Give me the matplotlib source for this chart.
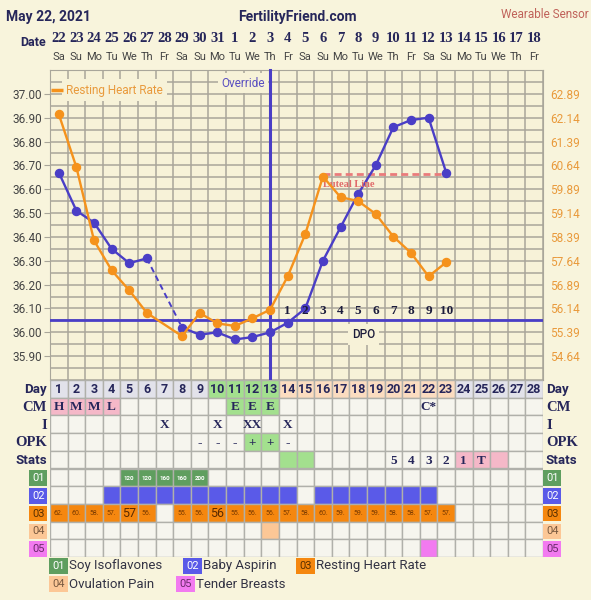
import matplotlib
matplotlib.use("Agg")
import matplotlib.pyplot as plt
import matplotlib.transforms as mtransforms
from matplotlib.patches import Rectangle
import numpy as np

plt.rcParams["font.family"] = ["Roboto", "DejaVu Sans"]

# ---- data ----
dates = ["22", "23", "24", "25", "26", "27", "28", "29", "30", "31", "1", "2", "3", "4",
         "5", "6", "7", "8", "9", "10", "11", "12", "13", "14", "15", "16", "17", "18"]
weekdays = ["Sa", "Su", "Mo", "Tu", "We", "Th", "Fr"] * 4
cycle_days = list(range(1, 29))

temp_days = [1, 2, 3, 4, 5, 6, 8, 9, 10, 11, 12, 13, 14, 15, 16, 17, 18, 19, 20, 21, 22, 23]
temps = [36.67, 36.51, 36.46, 36.35, 36.29, 36.31, 36.02, 35.99, 36.00, 35.97, 35.98, 36.00,
         36.04, 36.10, 36.30, 36.44, 36.58, 36.70, 36.86, 36.89, 36.90, 36.67]
hr_days = [1, 2, 3, 4, 5, 6, 8, 9, 10, 11, 12, 13, 14, 15, 16, 17, 18, 19, 20, 21, 22, 23]
heart_rate = [62.25, 60.58, 58.28, 57.34, 56.71, 56.00, 55.27, 56.00, 55.67, 55.59, 55.83,
              56.10, 57.15, 58.48, 60.29, 59.64, 59.52, 59.11, 58.40, 57.89, 57.15, 57.59]

coverline = 36.05
override_day = 13
luteal_days = [16, 23]
luteal_level = 36.665
dpo_days = list(range(14, 24))
dpo_labels = [str(i) for i in range(1, 11)]

temp_ticks = [37.00, 36.90, 36.80, 36.70, 36.60, 36.50, 36.40, 36.30, 36.20, 36.10, 36.00, 35.90]
hr_ticks = [62.89, 62.14, 61.39, 60.64, 59.89, 59.14, 58.39, 57.64, 56.89, 56.14, 55.39, 54.64]

# table rows
day_phase = ["none"] * 9 + ["fertile"] * 4 + ["luteal"] * 10 + ["none"] * 5
cm_obs = {1: "H", 2: "M", 3: "M", 4: "L", 11: "E", 12: "E", 13: "E", 22: "C*"}
intercourse = {7: "X", 10: "X", 12: "XX", 14: "X"}
opk = {9: "-", 10: "-", 11: "-", 12: "+", 13: "+", 14: "-"}
stats_green = [14, 15]
stats_pink = [24, 25, 26]
stats = {20: "5", 21: "4", 22: "3", 23: "2", 24: "1", 25: "T"}
soy_dose = {5: "120", 6: "120", 7: "160", 8: "160", 9: "200"}
aspirin_days = list(range(4, 15)) + list(range(16, 23))
hr_cells = {1: "62.", 2: "60.", 3: "58.", 4: "57.", 5: "57", 6: "56.", 8: "55.", 9: "56.",
            10: "56", 11: "55.", 12: "56.", 13: "56.", 14: "57.", 15: "58.", 16: "60.",
            17: "59.", 18: "59.", 19: "59.", 20: "58.", 21: "58.", 22: "57.", 23: "57."}
ovulation_pain_days = [13]
tender_days = [22]

row_names = ["Day", "CM", "I", "OPK", "Stats"]
custom_codes = ["01", "02", "03", "04", "05"]
custom_names = ["Soy Isoflavones", "Baby Aspirin", "Resting Heart Rate",
                "Ovulation Pain", "Tender Breasts"]

# ---- style ----
BG = "#f8f4dc"
PLOT_BG = "#f7f2d8"
GRID = "#a9a69a"
CELL = "#f6f5ee"
NAVY = "#26265a"
PURPLE = "#4a3ec6"
ORANGE = "#f5921c"
ORANGE_TXT = "#e99a3c"
PINK_TXT = "#e06a6a"
code_colors = ["#5f9e5f", "#5a5ae8", "#f5870f", "#fcc796", "#f27af0"]
code_text = ["white", "white", "#5a3000", "#7a5a40", "#6a2a6a"]
phase_colors = {"none": "#e2e2ea", "fertile": "#a3e08e", "luteal": "#fbdcc0"}

W, H = 591, 600


def fx(px):
    return px / W


def fy(py):
    return 1 - py / H


fig = plt.figure(figsize=(W / 100, H / 100), dpi=100, facecolor=BG)

# ---- main chart ----
ax = fig.add_axes([fx(50), fy(380), fx(543) - fx(50), fy(70) - fy(380)])
ax.set_facecolor(PLOT_BG)
ax.set_xlim(0.5, 28.5)
ax.set_ylim(35.80, 37.10)
for xv in np.arange(0.5, 29, 1):
    ax.axvline(xv, color=GRID, lw=1.1, zorder=1)
for yv in np.arange(35.80, 37.11, 0.05):
    ax.axhline(yv, color=GRID, lw=1.1, zorder=1)
for s in ax.spines.values():
    s.set_color(GRID)
ax.set_xticks([])
ax.set_yticks(temp_ticks)
ax.set_yticklabels([f"{t:.2f}" for t in temp_ticks], fontsize=8.5, color="#444444")
ax.tick_params(axis="y", length=4, color=GRID, pad=2)

ax2 = ax.twinx()
ax2.set_ylim(62.89 + (35.80 - 37.00) * 7.5, 62.89 + (37.10 - 37.00) * 7.5)
ax2.set_yticks(hr_ticks)
ax2.set_yticklabels([f"{t:.2f}" for t in hr_ticks], fontsize=8.5, color=ORANGE_TXT)
ax2.tick_params(axis="y", length=0, pad=5)
for s in ax2.spines.values():
    s.set_visible(False)

# coverline and override
ax.axhline(coverline, color=PURPLE, lw=2, zorder=3)
ax.plot([override_day, override_day], [35.80, 37.10], color=PURPLE, lw=2.2, zorder=3,
        clip_on=False)

# heart rate line
ax2.plot(hr_days, heart_rate, color=ORANGE, lw=1.7, marker="o", ms=5.8, zorder=4)

# temperature line (dashed over the missing day)
t_days = np.array(temp_days)
t_vals = np.array(temps)
gap = int(np.where(np.diff(t_days) > 1)[0][0])
ax.plot(t_days[:gap + 1], t_vals[:gap + 1], color=PURPLE, lw=1.7, marker="o", ms=5.8, zorder=5)
ax.plot(t_days[gap:gap + 2], t_vals[gap:gap + 2], color=PURPLE, lw=1.4, ls=(0, (3, 2)), zorder=5)
ax.plot(t_days[gap + 1:], t_vals[gap + 1:], color=PURPLE, lw=1.7, marker="o", ms=5.8, zorder=5)

# luteal line
ax.plot(luteal_days, [luteal_level, luteal_level], color="#ea7b7b", lw=2, ls=(0, (2.5, 1.5)),
        zorder=4)
ax.text(luteal_days[0], luteal_level - 0.025, "Luteal Line", fontsize=7.5, color=PINK_TXT,
        family=["Liberation Serif"], fontweight="bold", ha="left", va="top", zorder=6)

# DPO
for d, lab in zip(dpo_days, dpo_labels):
    ax.text(d, 36.065, lab, ha="center", va="bottom", fontsize=9.5, fontweight="bold",
            family=["Liberation Serif"], color="#1c1c3c", zorder=6)
ax.text(18.3, 35.99, "DPO", ha="center", va="center", fontsize=8.5, color="#1c1c3c",
        fontweight="medium", zorder=6,
        bbox=dict(boxstyle="square,pad=0.35", fc=PLOT_BG, ec="none"))

ax.text(12.7, 37.045, "Override", ha="right", va="center", fontsize=8.5, color="#5a4fc0",
        zorder=6, bbox=dict(boxstyle="square,pad=0.3", fc=PLOT_BG, ec="none"))

ax.text(1.4, 37.016, "Resting Heart Rate", ha="left", va="center", fontsize=8.5,
        color=ORANGE_TXT, zorder=6,
        bbox=dict(boxstyle="square,pad=0.35", fc=PLOT_BG, ec="none"))
ax.plot([0.55, 1.25], [37.016, 37.016], color=ORANGE, lw=2.5, zorder=7,
        solid_capstyle="butt")

# ---- header ----
fig.text(fx(6), fy(17), "May 22, 2021", fontsize=10, fontweight="bold", color=NAVY,
         va="center", ha="left")
fig.text(fx(297), fy(17), "FertilityFriend.com", fontsize=10, fontweight="bold",
         color=NAVY, va="center", ha="center")
fig.text(fx(589), fy(15), "Wearable Sensor", fontsize=8.5, color="#c0625a",
         va="center", ha="right")
fig.text(fx(46), fy(42), "Date", fontsize=9, fontweight="bold", color=NAVY,
         va="center", ha="right")
bt = mtransforms.blended_transform_factory(ax.transData, fig.transFigure)
for d, ds, wd in zip(cycle_days, dates, weekdays):
    fig.text(d, fy(38), ds, transform=bt, fontsize=10.5, fontweight="bold",
             family=["Liberation Serif"], color=NAVY, ha="center", va="center")
    fig.text(d, fy(57), wd, transform=bt, fontsize=8, color="#444444",
             ha="center", va="center")

# ---- table ----
axt = fig.add_axes([fx(50), fy(557), fx(543) - fx(50), fy(380) - fy(557)])
axt.set_xlim(0.5, 28.5)
axt.set_ylim(10, 0)
axt.axis("off")


def cell(day, row, fc, text=None, **kw):
    axt.add_patch(Rectangle((day - 0.5, row), 1, 1, fc=fc, ec="#b0b0aa", lw=1.0))
    if text:
        axt.text(day, row + 0.55, text, ha="center", va="center", **kw)


serif_kw = dict(fontsize=9.5, fontweight="bold", family=["Liberation Serif"], color=NAVY)

for d in cycle_days:
    cell(d, 0, phase_colors[day_phase[d - 1]], str(d), fontsize=9, fontweight="bold",
         color=NAVY)
    # CM
    if d in cm_obs:
        c = "#f5b8c8" if d <= 4 else ("#a3e08e" if cm_obs[d] == "E" else CELL)
        cell(d, 1, c, cm_obs[d], **serif_kw)
    else:
        cell(d, 1, CELL)
    cell(d, 2, CELL, intercourse.get(d), **serif_kw)
    cell(d, 3, "#a3e08e" if opk.get(d) == "+" else CELL, opk.get(d), **serif_kw)
    sc = "#a3e08e" if d in stats_green else ("#f5b8c8" if d in stats_pink else CELL)
    cell(d, 4, sc, stats.get(d), **serif_kw)
    cell(d, 5, code_colors[0] if d in soy_dose else CELL, soy_dose.get(d),
         fontsize=4.5, fontweight="bold", color="white")
    cell(d, 6, code_colors[1] if d in aspirin_days else CELL)
    if d in hr_cells:
        lab = hr_cells[d]
        big = not lab.endswith(".")
        cell(d, 7, code_colors[2], lab, fontsize=9 if big else 5,
             color="#5a2a00" if big else "#7a3a00")
    else:
        cell(d, 7, CELL)
    cell(d, 8, code_colors[3] if d in ovulation_pain_days else CELL)
    cell(d, 9, code_colors[4] if d in tender_days else CELL)

tt = mtransforms.blended_transform_factory(fig.transFigure, axt.transData)
label_fonts = [dict(fontweight="bold", family=["Roboto"], fontsize=9.5),
               dict(fontweight="bold", family=["Liberation Serif"], fontsize=10.5),
               dict(fontweight="bold", family=["Liberation Serif"], fontsize=10.5),
               dict(fontweight="bold", family=["Liberation Serif"], fontsize=10.5),
               dict(fontweight="bold", family=["Roboto"], fontsize=9.5)]
for i, (name, fk) in enumerate(zip(row_names, label_fonts)):
    fig.text(fx(47), i + 0.55, name, transform=tt, ha="right", va="center",
             color=NAVY, **fk)
    fig.text(fx(546), i + 0.55, name, transform=tt, ha="left", va="center",
             color=NAVY, **fk)

for i, code in enumerate(custom_codes):
    for xl in (fx(32), fx(546)):
        fig.text(xl, 5 + i + 0.55, code, transform=tt, ha="left", va="center",
                 fontsize=8, color=code_text[i],
                 bbox=dict(boxstyle="square,pad=0.25", fc=code_colors[i], ec="none"))

# ---- bottom legend ----
legend_pos = [(52, 566), (186, 566), (299, 566), (52, 584), (179, 584)]
for i, (code, name) in enumerate(zip(custom_codes, custom_names)):
    lx, ly = legend_pos[i]
    fig.text(fx(lx), fy(ly), code, ha="left", va="center", fontsize=8, color=code_text[i],
             bbox=dict(boxstyle="square,pad=0.3", fc=code_colors[i], ec="none"))
    fig.text(fx(lx + 17), fy(ly), name, ha="left", va="center", fontsize=9.5,
             color="#333344")

fig.savefig("out.png", dpi=100, facecolor=BG)
